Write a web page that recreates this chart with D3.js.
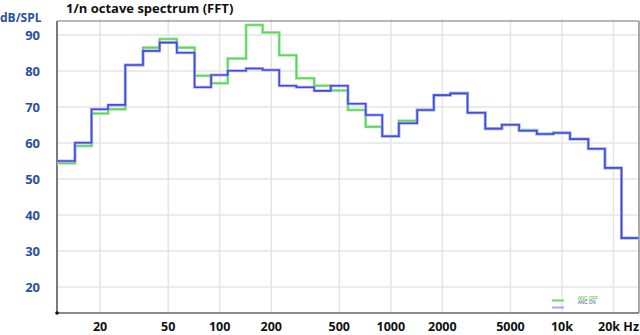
<!DOCTYPE html>
<html lang="en">
<head>
  <meta charset="UTF-8">
  <title>1/n octave spectrum</title>
  <script src="https://d3js.org/d3.v7.min.js"></script>
  <style>
    body { margin: 0; background: #fff; }
    svg { display: block; }
    .ylab { fill: #2b4f9e; font-family: "Open Sans", sans-serif; font-weight: bold; font-size: 13px; }
    .xlab { fill: #111; font-family: "Open Sans", sans-serif; font-weight: bold; font-size: 12.5px; }
    .grid line { stroke: #e4e4e4; stroke-width: 1.5; }
  </style>
</head>
<body>
<svg width="640" height="335"></svg>
<script>
  // 1/3 octave band centres (Hz)
  const bands = [12.5, 16, 20, 25, 31.5, 40, 50, 63, 80, 100, 125, 160, 200, 250, 315, 400, 500,
    630, 800, 1000, 1250, 1600, 2000, 2500, 3150, 4000, 5000, 6300, 8000, 10000, 12500, 16000, 20000, 25000];

  // dB SPL per band
  const ancOff = [54.4, 59.2, 68.2, 69.4, 81.7, 86.5, 88.9, 86.5, 78.7, 76.6, 83.5, 92.8, 90.7, 84.4, 78.0, 75.9, 74.6,
    69.2, 64.5, 61.9, 66.2, 69.2, 73.3, 73.8, 68.4, 64.0, 65.1, 63.6, 62.5, 62.9, 61.1, 58.4, 53.1, 33.6];
  const ancOn = [55.0, 60.1, 69.4, 70.6, 81.7, 85.6, 87.9, 85.1, 75.5, 78.9, 80.1, 80.7, 80.3, 75.9, 75.5, 74.5, 75.9,
    70.9, 67.8, 61.9, 65.5, 69.2, 73.3, 73.8, 68.4, 64.0, 65.1, 63.4, 62.5, 62.8, 61.1, 58.4, 53.1, 33.6];

  const xTicks = [20, 50, 100, 200, 500, 1000, 2000, 5000, 10000, 20000];
  const xTickText = ["20", "50", "100", "200", "500", "1000", "2000", "5000", "10k", "20k Hz"];
  const yTicks = [20, 30, 40, 50, 60, 70, 80, 90];

  const svg = d3.select("svg");
  const mLeft = 57, mRight = 639, mTop = 21, mBottom = 313;

  const x = d3.scaleLog().domain([11.2, 28200]).range([mLeft, mRight]);
  const y = d3.scaleLinear().domain([12.8, 93.9]).range([mBottom, mTop]);

  // grid
  const grid = svg.append("g").attr("class", "grid");
  grid.selectAll(".gx").data(xTicks).join("line")
    .attr("x1", d => x(d)).attr("x2", d => x(d))
    .attr("y1", mTop - 2).attr("y2", mBottom);
  grid.selectAll(".gy").data(yTicks).join("line")
    .attr("x1", mLeft).attr("x2", mRight)
    .attr("y1", d => y(d)).attr("y2", d => y(d));

  // frame
  svg.append("line").attr("x1", mLeft).attr("x2", mRight).attr("y1", mTop).attr("y2", mTop)
    .attr("stroke", "#a0a0a0").attr("stroke-width", 1.5);
  svg.append("line").attr("x1", mRight).attr("x2", mRight).attr("y1", mTop).attr("y2", mBottom)
    .attr("stroke", "#8c8c8c").attr("stroke-width", 1.5);
  svg.append("line").attr("x1", mLeft).attr("x2", mRight).attr("y1", mBottom).attr("y2", mBottom)
    .attr("stroke", "#8a8a8a").attr("stroke-width", 2);
  svg.append("line").attr("x1", mLeft).attr("x2", mLeft).attr("y1", mTop).attr("y2", mBottom)
    .attr("stroke", "#7a7a7a").attr("stroke-width", 2);
  svg.append("circle").attr("cx", mLeft).attr("cy", mBottom).attr("r", 1.8).attr("fill", "#111");

  // step curves: each band drawn from its lower edge, last one closed at upper edge
  function steps(vals) {
    const pts = bands.map((f, i) => [x(f / Math.pow(10, 0.05)), y(vals[i])]);
    pts.push([x(bands[bands.length - 1] * Math.pow(10, 0.05)), y(vals[vals.length - 1])]);
    return pts;
  }
  const line = d3.line().curve(d3.curveStepAfter);
  svg.append("clipPath").attr("id", "clip").append("rect")
    .attr("x", mLeft).attr("y", mTop).attr("width", mRight - mLeft).attr("height", mBottom - mTop);
  const series = svg.append("g").attr("clip-path", "url(#clip)");

  series.append("path").attr("d", line(steps(ancOff)))
    .attr("fill", "none").attr("stroke", "#a8eca8").attr("stroke-width", 3);
  series.append("path").attr("d", line(steps(ancOff)))
    .attr("fill", "none").attr("stroke", "#5cd65c").attr("stroke-width", 1.6);
  series.append("path").attr("d", line(steps(ancOn)))
    .attr("fill", "none").attr("stroke", "#a4a4f2").attr("stroke-width", 3).attr("opacity", 0.8);
  series.append("path").attr("d", line(steps(ancOn)))
    .attr("fill", "none").attr("stroke", "#4848e8").attr("stroke-width", 1.6);

  // y labels
  svg.selectAll(".ylab.t").data(yTicks).join("text")
    .attr("class", "ylab t")
    .attr("x", 40).attr("y", d => y(d) + 4.5)
    .attr("text-anchor", "end")
    .text(d => d);
  svg.append("text").attr("class", "ylab").attr("x", 0).attr("y", 22)
    .attr("font-size", 12).style("font-size", "12px").text("dB/SPL");

  // x labels
  const last = xTicks.length - 1;
  svg.selectAll(".xlab").data(xTicks).join("text")
    .attr("class", "xlab")
    .attr("x", (d, i) => i === last ? mRight : x(d))
    .attr("y", 331)
    .attr("text-anchor", (d, i) => i === last ? "end" : "middle")
    .text((d, i) => xTickText[i]);

  // title
  svg.append("text").attr("x", 66).attr("y", 13)
    .attr("font-family", "'Open Sans', sans-serif").attr("font-weight", "bold").attr("font-size", 13)
    .attr("fill", "#111").text("1/n octave spectrum (FFT)");

  // legend
  const lg = svg.append("g").attr("font-family", "Arial, sans-serif").attr("font-size", 4.5);
  lg.append("line").attr("x1", 552).attr("x2", 564).attr("y1", 300.5).attr("y2", 300.5)
    .attr("stroke", "#66dd66").attr("stroke-width", 2);
  lg.append("line").attr("x1", 552).attr("x2", 564).attr("y1", 307.5).attr("y2", 307.5)
    .attr("stroke", "#a8a8f4").attr("stroke-width", 2);
  lg.append("text").attr("x", 578).attr("y", 299.5).attr("fill", "#33bb33").text("ANC OFF");
  lg.append("text").attr("x", 578).attr("y", 304).attr("fill", "#3a4aa0").text("ANC ON");
</script>
</body>
</html>
